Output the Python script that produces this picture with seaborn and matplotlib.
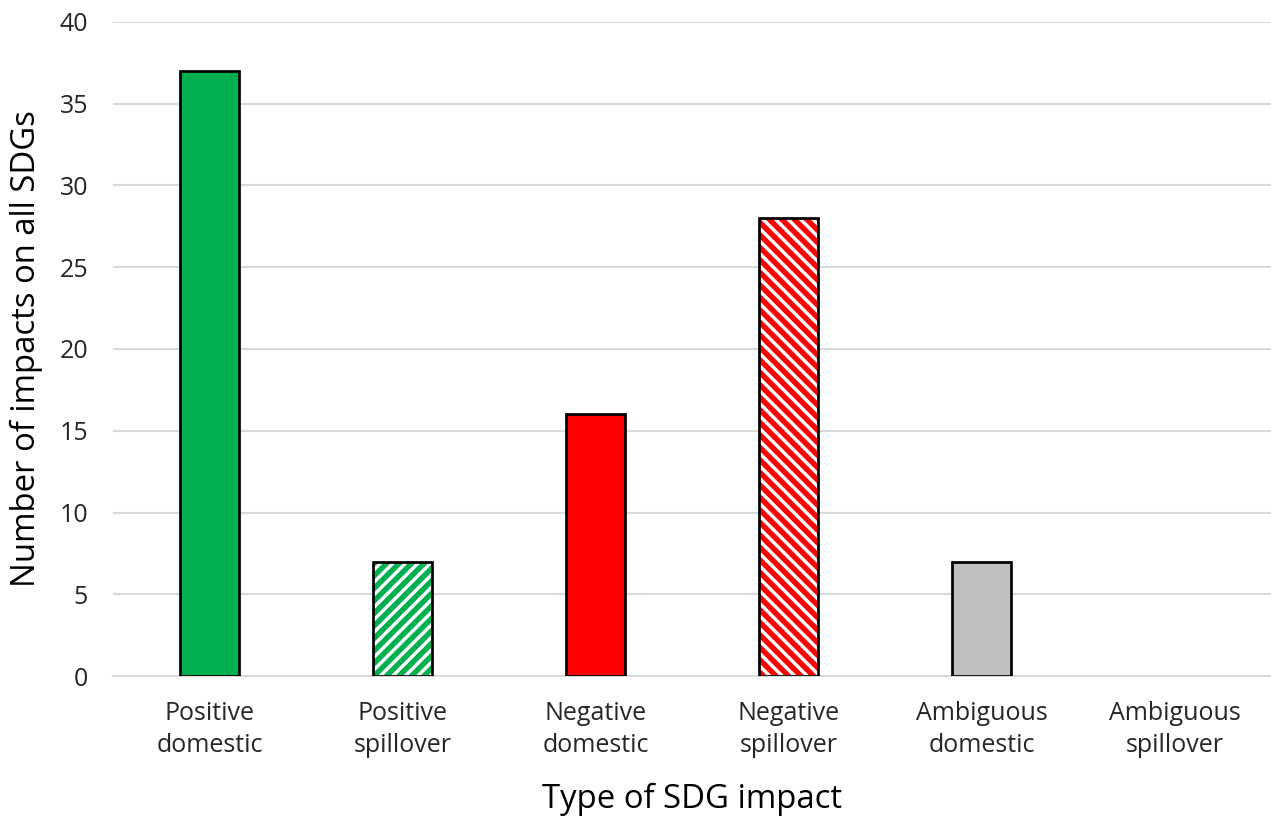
import matplotlib
matplotlib.use('Agg')
import matplotlib.pyplot as plt
import seaborn as sns
import pandas as pd

# chart data
categories = ['Positive\ndomestic', 'Positive\nspillover', 'Negative\ndomestic',
              'Negative\nspillover', 'Ambiguous\ndomestic', 'Ambiguous\nspillover']
impacts = [37, 7, 16, 28, 7, 0]
bar_colors = ['#00B050', '#00B050', '#FF0000', '#FF0000', '#BFBFBF', '#BFBFBF']
hatches = ['', '////', '', '\\\\\\\\', '', '']
y_ticks = [0, 5, 10, 15, 20, 25, 30, 35, 40]

sns.set_style('white')
plt.rcParams['font.family'] = ['Open Sans', 'DejaVu Sans']
plt.rcParams['hatch.linewidth'] = 2.6

df = pd.DataFrame({'type': categories, 'n': impacts})

fig = plt.figure(figsize=(1271 / 150, 816 / 150), dpi=150)
ax = fig.add_axes([113 / 1271, 1 - 676 / 816, 1 - 113 / 1271, (676 - 22) / 816])

sns.barplot(data=df, x='type', y='n', hue='type', palette=bar_colors,
            legend=False, width=0.31, edgecolor='black', linewidth=1.3,
            saturation=1, ax=ax, zorder=3)

# hatched bars: white fill with coloured stripes, black outline on top
for patch, col, h in zip(ax.patches, bar_colors, hatches):
    if not h or patch.get_height() == 0:
        continue
    ax.bar(patch.get_x(), patch.get_height(), width=patch.get_width(), align='edge',
           color='white', edgecolor=col, hatch=h, linewidth=0, zorder=2)
    patch.set_facecolor('none')
    patch.set_zorder(4)

# hide the zero-height bar outline
for patch, v in zip(ax.patches, impacts):
    if v == 0:
        patch.set_visible(False)

ax.set_ylim(0, 40)
ax.set_xlim(-0.5, 5.5)
ax.set_yticks(y_ticks)
ax.yaxis.grid(True, color='#D9D9D9', linewidth=1.0, zorder=0)
ax.set_axisbelow(True)
for side in ['left', 'right', 'top']:
    ax.spines[side].set_visible(False)
ax.spines['bottom'].set_color('#D9D9D9')
ax.spines['bottom'].set_linewidth(1.0)
ax.tick_params(axis='both', length=0, colors='#262626')
ax.tick_params(axis='y', labelsize=12, pad=12)
ax.tick_params(axis='x', labelsize=12, pad=12)
for lbl in ax.get_xticklabels():
    lbl.set_linespacing(1.38)

ax.set_xlabel('Type of SDG impact', fontsize=15.8, color='black', labelpad=12)
ax.set_ylabel('Number of impacts on all SDGs', fontsize=15.8, color='black', labelpad=8)

fig.savefig('out.png', dpi=150)
plt.close(fig)
